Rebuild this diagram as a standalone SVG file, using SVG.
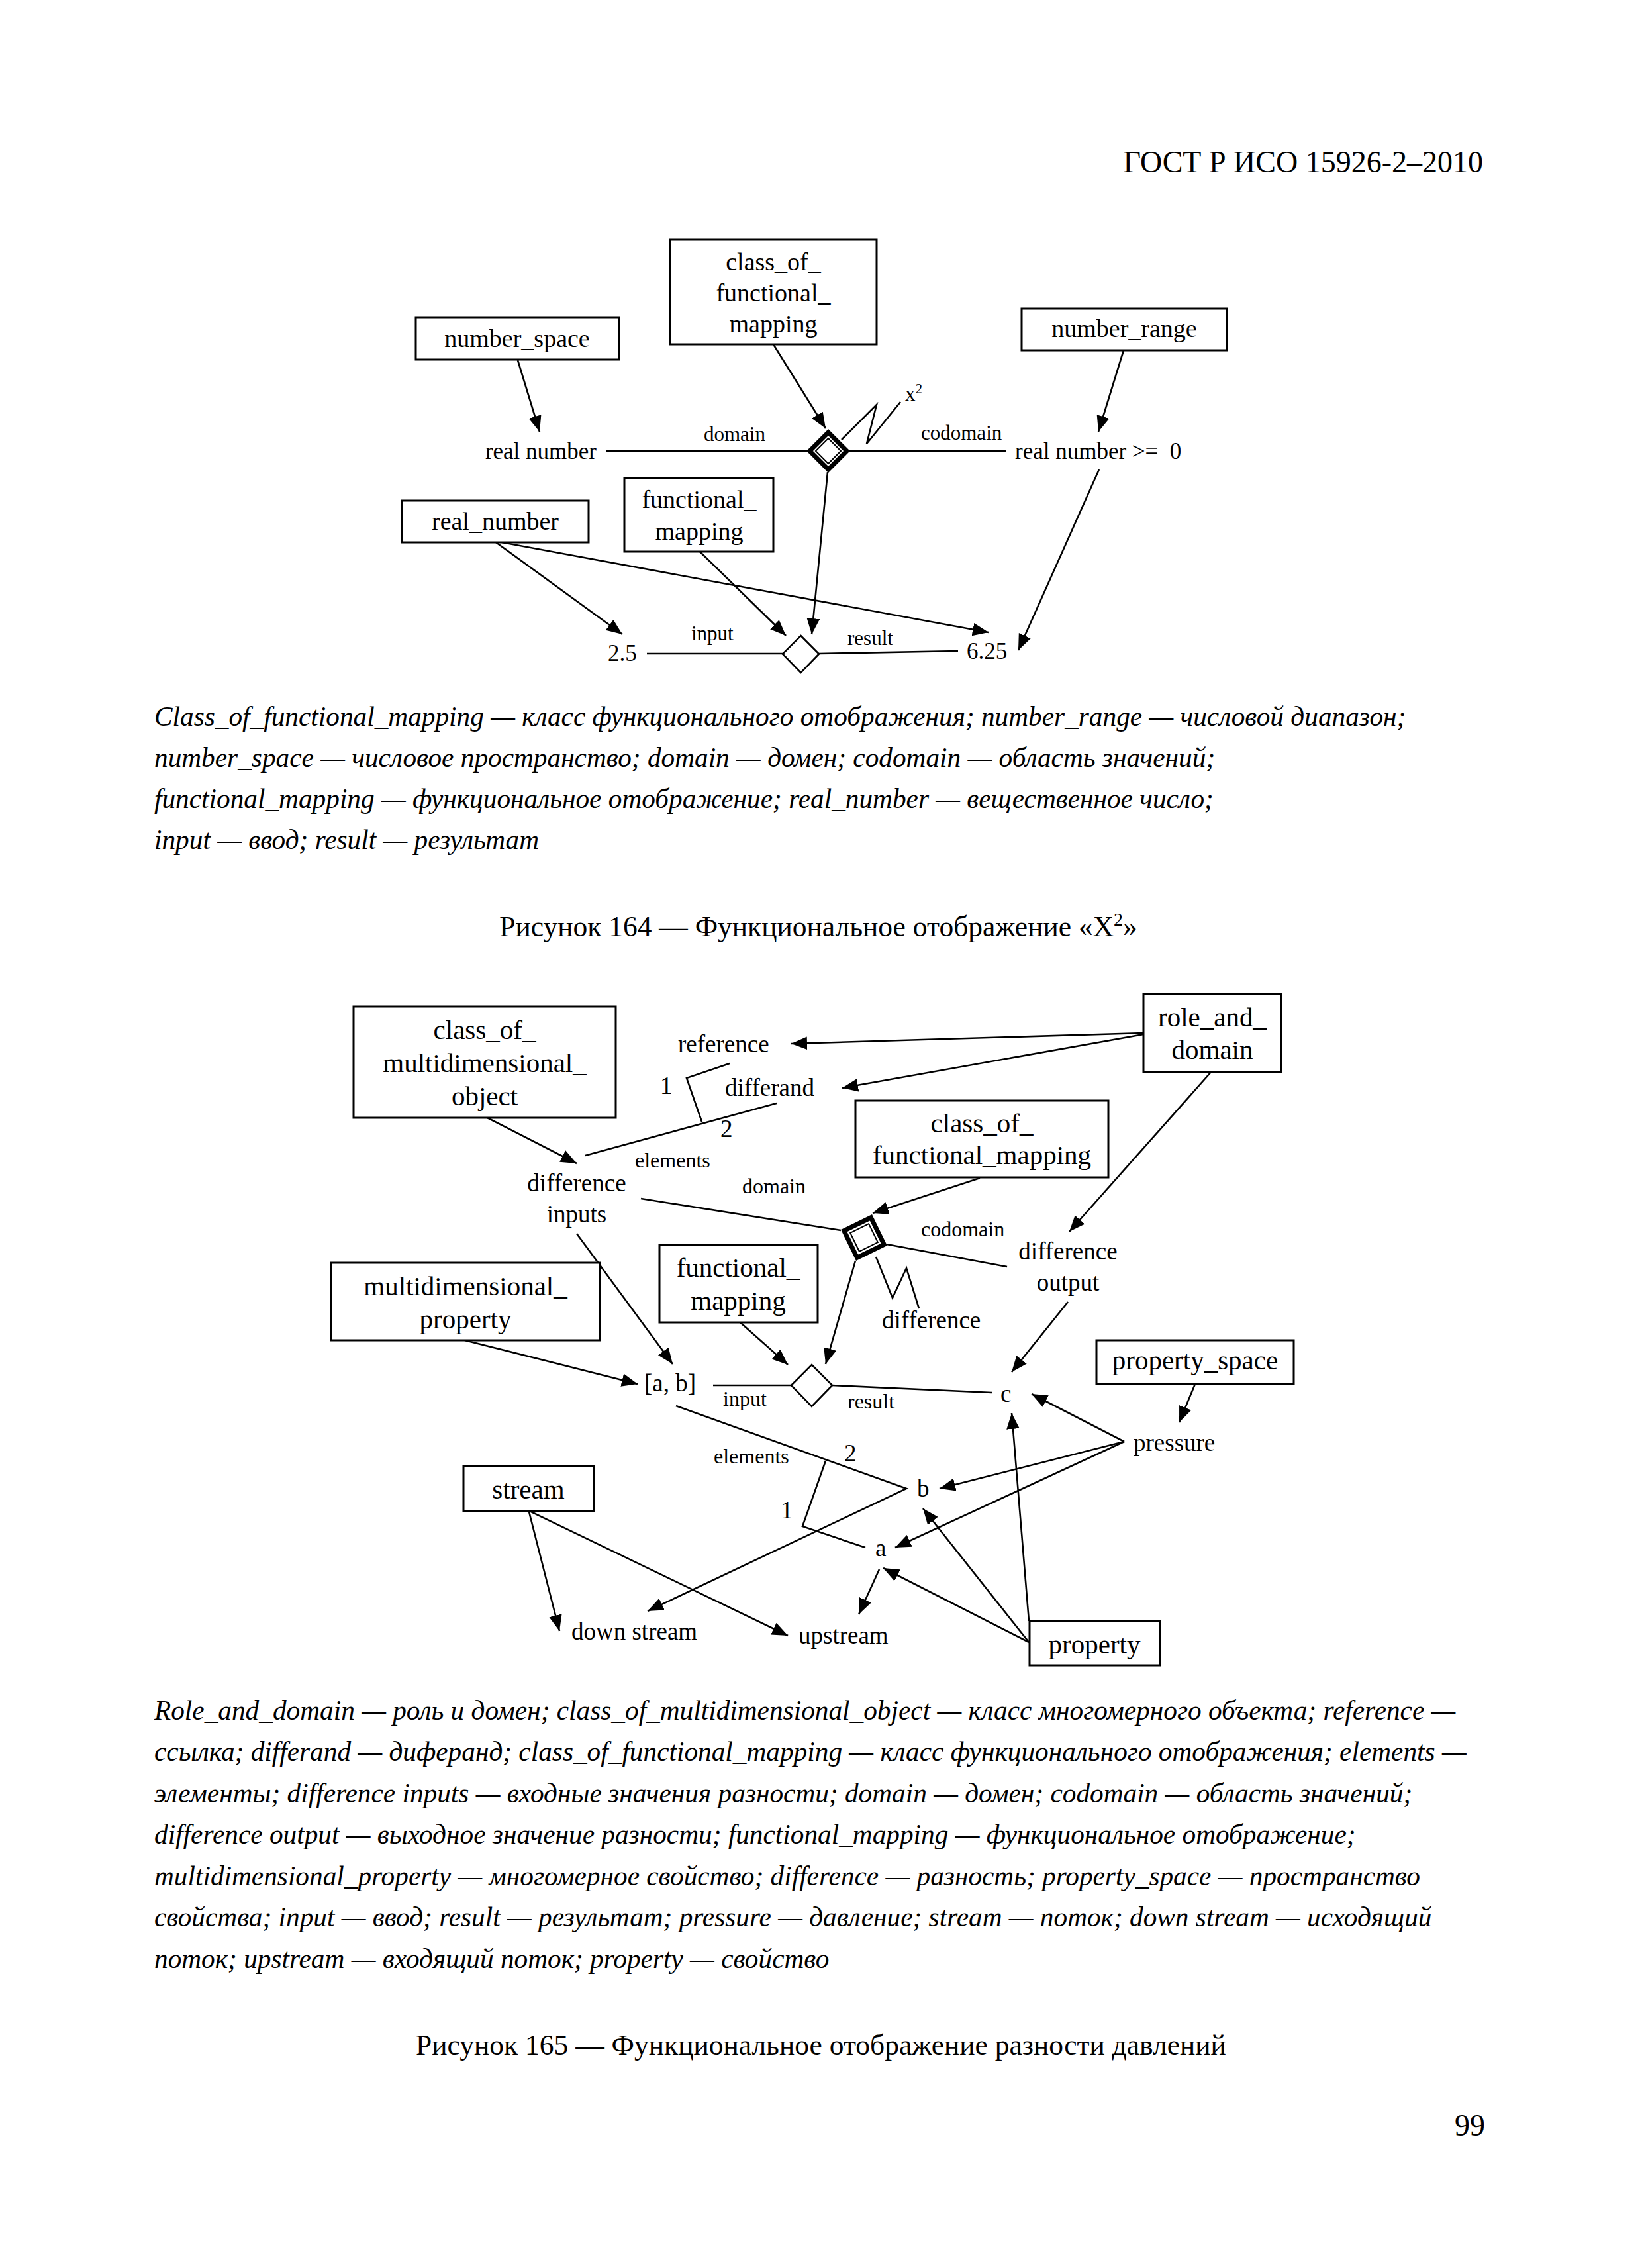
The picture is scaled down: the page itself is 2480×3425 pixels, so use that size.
<svg xmlns="http://www.w3.org/2000/svg" width="2480" height="3425" viewBox="0 0 2480 3425">
<style>
text{font-family:"Liberation Serif","Times New Roman",serif;fill:#000}
.bx{fill:#fff;stroke:#000;stroke-width:3}
.ln{fill:none;stroke:#000;stroke-width:2.6}
.ar{fill:none;stroke:#000;stroke-width:2.6;marker-end:url(#ah)}
.b1{font-size:38px;text-anchor:middle}
.b2{font-size:41px;text-anchor:middle}
.m1{font-size:35px}
.m2{font-size:37px}
.s{font-size:31px}
.s2{font-size:32px}
.c{text-anchor:middle}
.cap{font-size:41.3px;font-style:italic}
.ttl{font-size:43.5px;text-anchor:middle}
</style>
<defs>
<marker id="ah" markerUnits="userSpaceOnUse" markerWidth="24" markerHeight="20" refX="22" refY="9" orient="auto" viewBox="0 0 22 18"><path d="M0,0 L22,9 L0,18 z" fill="#000"/></marker>
</defs>
<rect width="2480" height="3425" fill="#fff"/>
<text x="2240" y="260" style="font-size:46px;text-anchor:end">ГОСТ Р ИСО 15926-2–2010</text>

<!-- Figure 164 connectors -->
<g id="connectors164">
<line class="ar" x1="782" y1="544" x2="815" y2="652"/>
<line class="ar" x1="1168" y1="520" x2="1247" y2="647"/>
<line class="ln" x1="916" y1="681" x2="1220" y2="681"/>
<line class="ln" x1="1282" y1="681" x2="1519" y2="681"/>
<polyline class="ln" points="1271,664 1324,611 1309,670 1360,607"/>
<line class="ar" x1="1697" y1="529" x2="1659" y2="652"/>
<line class="ar" x1="1660" y1="709" x2="1538" y2="982"/>
<line class="ar" x1="1250" y1="713" x2="1226" y2="958"/>
<line class="ar" x1="749" y1="819" x2="940" y2="958"/>
<line class="ar" x1="758" y1="819" x2="1493" y2="955"/>
<line class="ar" x1="1057" y1="833" x2="1187" y2="960"/>
<line class="ln" x1="977" y1="987" x2="1182" y2="987"/>
<line class="ln" x1="1237" y1="987" x2="1447" y2="983"/>
</g>

<g id="cofm1"><rect class="bx" x="1012" y="362" width="312" height="158"/><text class="b1" x="1168" y="408">class_of_</text><text class="b1" x="1168" y="455">functional_</text><text class="b1" x="1168" y="502">mapping</text></g>
<g id="number_space"><rect class="bx" x="628" y="479" width="307" height="64"/><text class="b1" x="781" y="524">number_space</text></g>
<g id="number_range"><rect class="bx" x="1543" y="466" width="310" height="63"/><text class="b1" x="1698" y="509">number_range</text></g>
<g id="real_number"><rect class="bx" x="607" y="756" width="282" height="63"/><text class="b1" x="748" y="800">real_number</text></g>
<g id="fm1"><rect class="bx" x="943" y="722" width="225" height="111"/><text class="b1" x="1056" y="767">functional_</text><text class="b1" x="1056" y="815">mapping</text></g>
<g id="cfm_diamond1">
<path d="M1251,653 L1279,681 L1251,709 L1223,681 Z" fill="#fff" stroke="#000" stroke-width="7"/>
<path d="M1251,662 L1270,681 L1251,700 L1232,681 Z" fill="#fff" stroke="#000" stroke-width="2"/>
</g>
<g id="fm_diamond1"><path d="M1209.5,960 L1237,987.5 L1209.5,1016 L1182,987.5 Z" fill="#fff" stroke="#000" stroke-width="2.6"/></g>
<g id="labels164">
<text class="m1" x="901" y="693" style="text-anchor:end">real number</text>
<text class="s" x="1063" y="666">domain</text>
<text class="s" x="1391" y="664">codomain</text>
<text class="m1" x="1533" y="693" xml:space="preserve">real number &gt;=  0</text>
<text class="s" x="1367" y="605">x</text><text x="1383" y="594" style="font-size:20px">2</text>
<text class="s" x="1044" y="967">input</text>
<text class="s" x="1280" y="974">result</text>
<text class="m1" x="918" y="998">2.5</text>
<text class="m1" x="1460" y="995">6.25</text>
</g>

<g id="caption164">
<text class="cap" x="233" y="1096">Class_of_functional_mapping — класс функционального отображения; number_range — числовой диапазон;</text>
<text class="cap" x="233" y="1158">number_space — числовое пространство; domain — домен; codomain — область значений;</text>
<text class="cap" x="233" y="1220">functional_mapping — функциональное отображение; real_number — вещественное число;</text>
<text class="cap" x="233" y="1282">input — ввод; result — результат</text>
</g>
<text class="ttl" x="1236" y="1414">Рисунок 164 — Функциональное отображение «X<tspan dy="-16" style="font-size:28px">2</tspan><tspan dy="16">»</tspan></text>

<!-- Figure 165 connectors -->
<g id="connectors165">
<line class="ar" x1="1727" y1="1560" x2="1195" y2="1576"/>
<line class="ar" x1="1727" y1="1562" x2="1272" y2="1643"/>
<polyline class="ln" points="1102,1606 1037,1628 1060,1694"/>
<line class="ln" x1="1173" y1="1666" x2="884" y2="1745"/>
<line class="ar" x1="736" y1="1688" x2="871" y2="1757"/>
<line class="ln" x1="968" y1="1810" x2="1270" y2="1858"/>
<line class="ar" x1="1480" y1="1779" x2="1318" y2="1832"/>
<line class="ar" x1="1829" y1="1619" x2="1615" y2="1860"/>
<line class="ln" x1="1339" y1="1879" x2="1521" y2="1913"/>
<polyline class="ln" points="1323,1898 1348,1960 1369,1915 1388,1976"/>
<line class="ar" x1="1292" y1="1904" x2="1247" y2="2060"/>
<line class="ar" x1="871" y1="1863" x2="1016" y2="2060"/>
<line class="ar" x1="1118" y1="1997" x2="1190" y2="2061"/>
<line class="ar" x1="702" y1="2024" x2="963" y2="2090"/>
<line class="ln" x1="1077" y1="2092" x2="1195" y2="2092"/>
<line class="ln" x1="1257" y1="2092" x2="1498" y2="2103"/>
<line class="ar" x1="1613" y1="1966" x2="1528" y2="2072"/>
<line class="ar" x1="1805" y1="2090" x2="1781" y2="2148"/>
<line class="ar" x1="1698" y1="2177" x2="1558" y2="2105"/>
<line class="ar" x1="1698" y1="2177" x2="1419" y2="2248"/>
<line class="ar" x1="1698" y1="2177" x2="1352" y2="2337"/>
<polyline class="ar" points="1021,2123 1369,2248 978,2433"/>
<polyline class="ln" points="1247,2206 1212,2305 1307,2337"/>
<line class="ar" x1="799" y1="2283" x2="845" y2="2463"/>
<line class="ar" x1="802" y1="2283" x2="1190" y2="2470"/>
<line class="ar" x1="1554" y1="2448" x2="1528" y2="2134"/>
<line class="ar" x1="1554" y1="2480" x2="1394" y2="2278"/>
<line class="ar" x1="1554" y1="2480" x2="1334" y2="2368"/>
<line class="ar" x1="1328" y1="2370" x2="1297" y2="2438"/>
</g>

<g id="cmo"><rect class="bx" x="534" y="1520" width="396" height="168"/><text class="b2" x="732" y="1569">class_of_</text><text class="b2" x="732" y="1619">multidimensional_</text><text class="b2" x="732" y="1669">object</text></g>
<g id="role_and_domain"><rect class="bx" x="1727" y="1501" width="208" height="118"/><text class="b2" x="1831" y="1550">role_and_</text><text class="b2" x="1831" y="1599">domain</text></g>
<g id="cofm2"><rect class="bx" x="1292" y="1662" width="382" height="116"/><text class="b2" x="1483" y="1710">class_of_</text><text class="b2" x="1483" y="1758">functional_mapping</text></g>
<g id="mp"><rect class="bx" x="500" y="1907" width="406" height="117"/><text class="b2" x="703" y="1956">multidimensional_</text><text class="b2" x="703" y="2006">property</text></g>
<g id="fm2"><rect class="bx" x="996" y="1880" width="239" height="117"/><text class="b2" x="1115" y="1928">functional_</text><text class="b2" x="1115" y="1978">mapping</text></g>
<g id="property_space"><rect class="bx" x="1656" y="2024" width="298" height="66"/><text class="b2" x="1805" y="2068">property_space</text></g>
<g id="stream"><rect class="bx" x="700" y="2214" width="197" height="68"/><text class="b2" x="798" y="2263">stream</text></g>
<g id="property"><rect class="bx" x="1555" y="2448" width="197" height="67"/><text class="b2" x="1653" y="2497">property</text></g>
<g id="cfm_diamond2" transform="rotate(19 1305 1869)">
<path d="M1305,1837 L1337,1869 L1305,1901 L1273,1869 Z" fill="#fff" stroke="#000" stroke-width="7"/>
<path d="M1305,1847 L1327,1869 L1305,1891 L1283,1869 Z" fill="#fff" stroke="#000" stroke-width="2"/>
</g>
<g id="fm_diamond2"><path d="M1226,2061 L1257,2092 L1226,2124 L1195,2092 Z" fill="#fff" stroke="#000" stroke-width="2.6"/></g>
<g id="labels165">
<text class="m2" x="1024" y="1589">reference</text>
<text class="m2" x="1095" y="1655">differand</text>
<text class="m2" x="997" y="1652">1</text>
<text class="m2" x="1088" y="1717">2</text>
<text class="s2" x="959" y="1763">elements</text>
<text class="m2 c" x="871" y="1799">difference</text>
<text class="m2 c" x="871" y="1846">inputs</text>
<text class="s2" x="1121" y="1802">domain</text>
<text class="s2" x="1391" y="1867">codomain</text>
<text class="m2 c" x="1613" y="1902">difference</text>
<text class="m2 c" x="1613" y="1949">output</text>
<text class="m2" x="1332" y="2006">difference</text>
<text class="m2" x="973" y="2101">[a, b]</text>
<text class="s2" x="1092" y="2123">input</text>
<text class="s2" x="1280" y="2127">result</text>
<text class="m2" x="1511" y="2117">c</text>
<text class="m2" x="1712" y="2191">pressure</text>
<text class="s2" x="1078" y="2210">elements</text>
<text class="m2" x="1275" y="2207">2</text>
<text class="m2" x="1179" y="2293">1</text>
<text class="m2" x="1385" y="2260">b</text>
<text class="m2" x="1322" y="2350">a</text>
<text class="m2" x="863" y="2476">down stream</text>
<text class="m2" x="1206" y="2482">upstream</text>
</g>

<g id="caption165">
<text class="cap" x="233" y="2597">Role_and_domain — роль и домен; class_of_multidimensional_object — класс многомерного объекта; reference —</text>
<text class="cap" x="233" y="2659">ссылка; differand — диферанд; class_of_functional_mapping — класс функционального отображения; elements —</text>
<text class="cap" x="233" y="2722">элементы; difference inputs — входные значения разности; domain — домен; codomain — область значений;</text>
<text class="cap" x="233" y="2784">difference output — выходное значение разности; functional_mapping — функциональное отображение;</text>
<text class="cap" x="233" y="2847">multidimensional_property — многомерное свойство; difference — разность; property_space — пространство</text>
<text class="cap" x="233" y="2909">свойства; input — ввод; result — результат; pressure — давление; stream — поток; down stream — исходящий</text>
<text class="cap" x="233" y="2972">поток; upstream — входящий поток; property — свойство</text>
</g>
<text class="ttl" x="1240" y="3103">Рисунок 165 — Функциональное отображение разности давлений</text>
<text x="2243" y="3225" style="font-size:46px;text-anchor:end">99</text>
</svg>
